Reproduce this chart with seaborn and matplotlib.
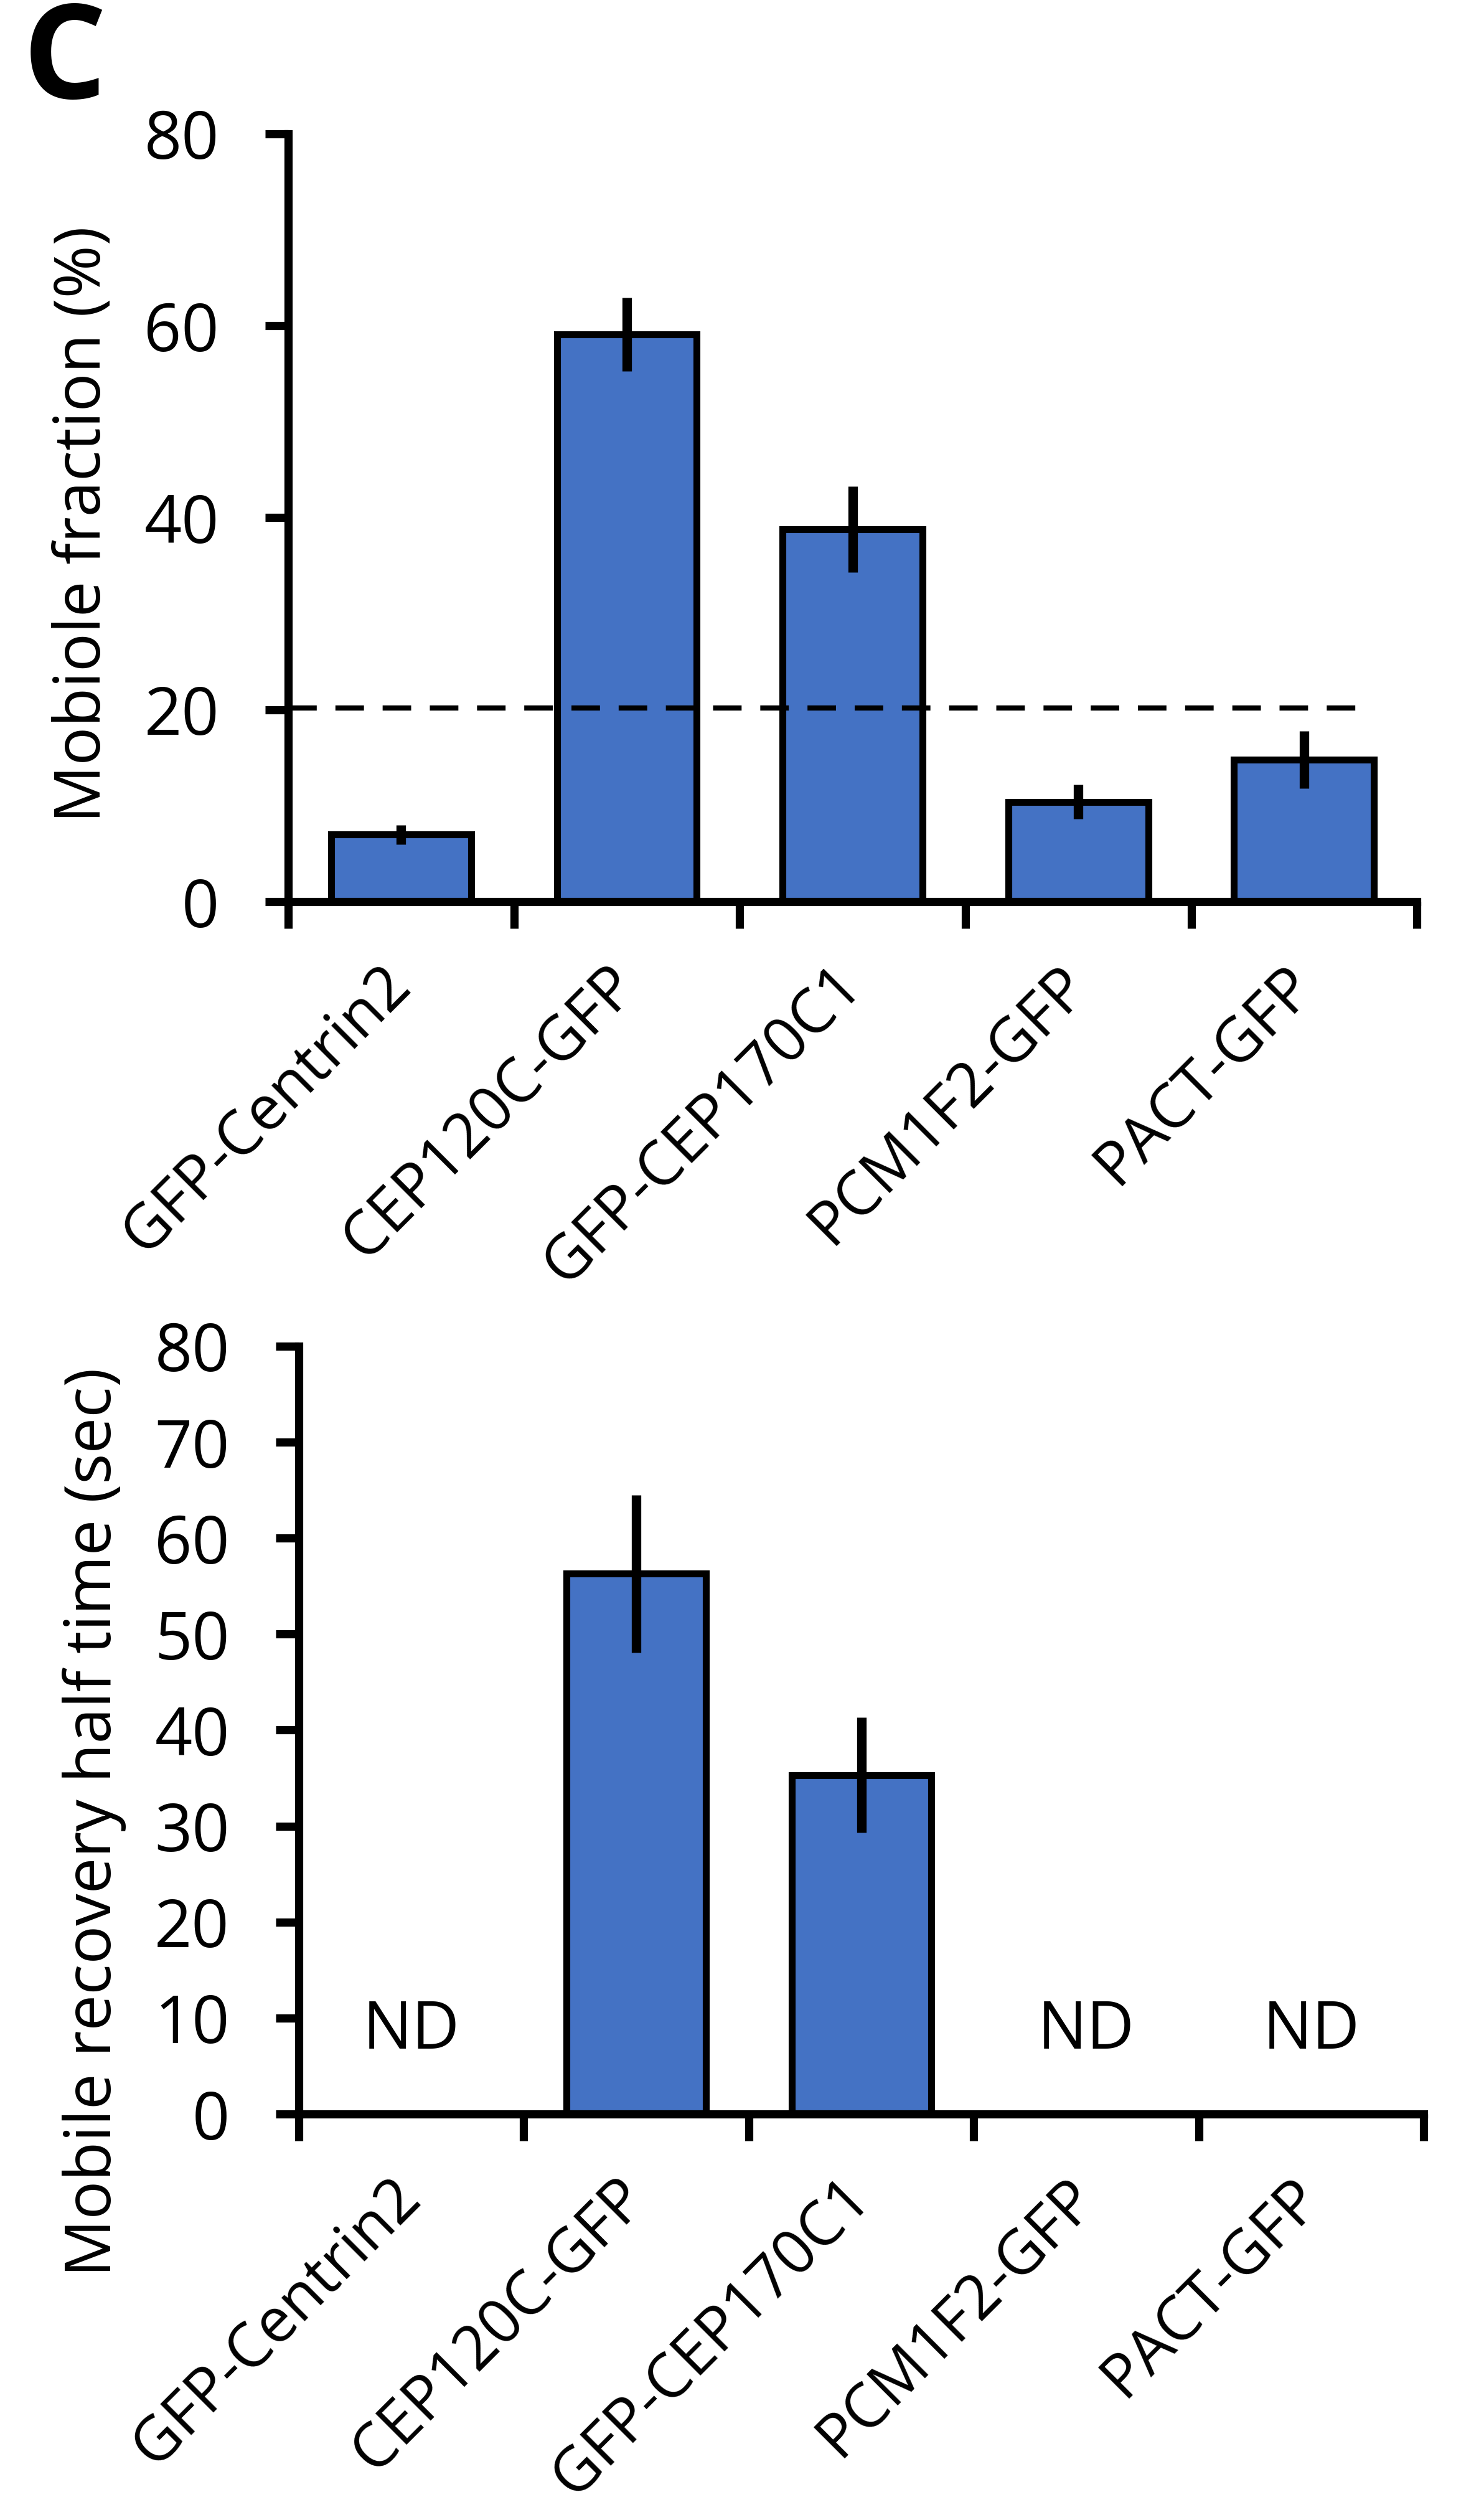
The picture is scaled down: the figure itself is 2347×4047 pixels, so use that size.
import matplotlib.pyplot as plt
import numpy as np
import pandas as pd
import seaborn as sns

CONSTRUCTS = ["GFP-Centrin2", "CEP120C-GFP", "GFP-CEP170C1", "PCM1F2-GFP", "PACT-GFP"]

# top panel: mobile fraction (%)
MOBILE_FRACTION = [7.0, 59.1, 38.8, 10.4, 14.8]
MOBILE_FRACTION_ERR = [1.0, 3.8, 4.5, 1.8, 3.0]
THRESHOLD = 20.2

# bottom panel: recovery half time (sec), ND = not determined
HALF_TIME = [np.nan, 56.3, 35.3, np.nan, np.nan]
HALF_TIME_ERR = [np.nan, 8.2, 6.0, np.nan, np.nan]
ND_TEXT = "ND"

BAR_COLOR = "#4472C4"
LINE_W = 9.5


def draw_bars(ax, values, errors, ylabel, yticks):
    df = pd.DataFrame({"construct": CONSTRUCTS, "value": values})
    sns.barplot(
        data=df,
        x="construct",
        y="value",
        order=CONSTRUCTS,
        color=BAR_COLOR,
        saturation=1,
        width=0.62,
        edgecolor="black",
        linewidth=8,
        errorbar=None,
        ax=ax,
    )
    ax.errorbar(
        x=np.arange(len(CONSTRUCTS)),
        y=values,
        yerr=errors,
        fmt="none",
        ecolor="black",
        elinewidth=11,
        capsize=0,
        zorder=3,
    )

    ax.set_xlim(-0.5, len(CONSTRUCTS) - 0.5)
    ax.set_ylim(0, yticks[-1])
    ax.set_yticks(yticks)
    ax.set_xticks(
        np.arange(len(CONSTRUCTS)),
        CONSTRUCTS,
        rotation=45,
        ha="right",
        va="center",
        rotation_mode="anchor",
    )
    ax.set_xticks(np.arange(-0.5, len(CONSTRUCTS)), minor=True)
    ax.tick_params(axis="x", which="major", length=0, pad=86, labelsize=71)
    ax.tick_params(axis="x", which="minor", length=31, width=LINE_W, direction="out")
    ax.tick_params(axis="y", length=27, width=LINE_W, pad=53, labelsize=76)

    for side in ["left", "bottom"]:
        ax.spines[side].set_linewidth(LINE_W)
    sns.despine(ax=ax)

    ax.set_xlabel("")
    ax.set_ylabel(ylabel, fontsize=74)


def plot_frap():
    fig = plt.figure(figsize=(23.47, 40.47), dpi=100)

    ax_top = fig.add_axes([0.1973, 0.6422, 0.7725, 0.3047])
    draw_bars(ax_top, MOBILE_FRACTION, MOBILE_FRACTION_ERR, "Mobiole fraction (%)", np.arange(0, 81, 20))
    ax_top.axhline(THRESHOLD, xmax=0.947, color="black", lw=6, ls=(0, (5.5, 3.6)), zorder=4)
    ax_top.yaxis.set_label_coords(-0.153, 0.491)

    ax_bot = fig.add_axes([0.2045, 0.1611, 0.77, 0.3047])
    draw_bars(ax_bot, HALF_TIME, HALF_TIME_ERR, "Mobile recovery half time (sec)", np.arange(0, 81, 10))
    for i, v in enumerate(HALF_TIME):
        if np.isnan(v):
            ax_bot.text(i, 8.6, ND_TEXT, ha="center", va="center", fontsize=76)
    ax_bot.yaxis.set_label_coords(-0.153, 0.38)

    fig.text(0.0443, 0.9745, "C", fontsize=152, fontweight="bold", ha="center", va="center")

    fig.savefig("out.png", dpi=100, facecolor="white")


if __name__ == "__main__":
    sns.set_style("ticks")
    plt.rcParams["font.family"] = ["Open Sans", "DejaVu Sans"]
    for key in ["text.color", "axes.labelcolor", "xtick.color", "ytick.color", "axes.edgecolor"]:
        plt.rcParams[key] = "black"
    plot_frap()
